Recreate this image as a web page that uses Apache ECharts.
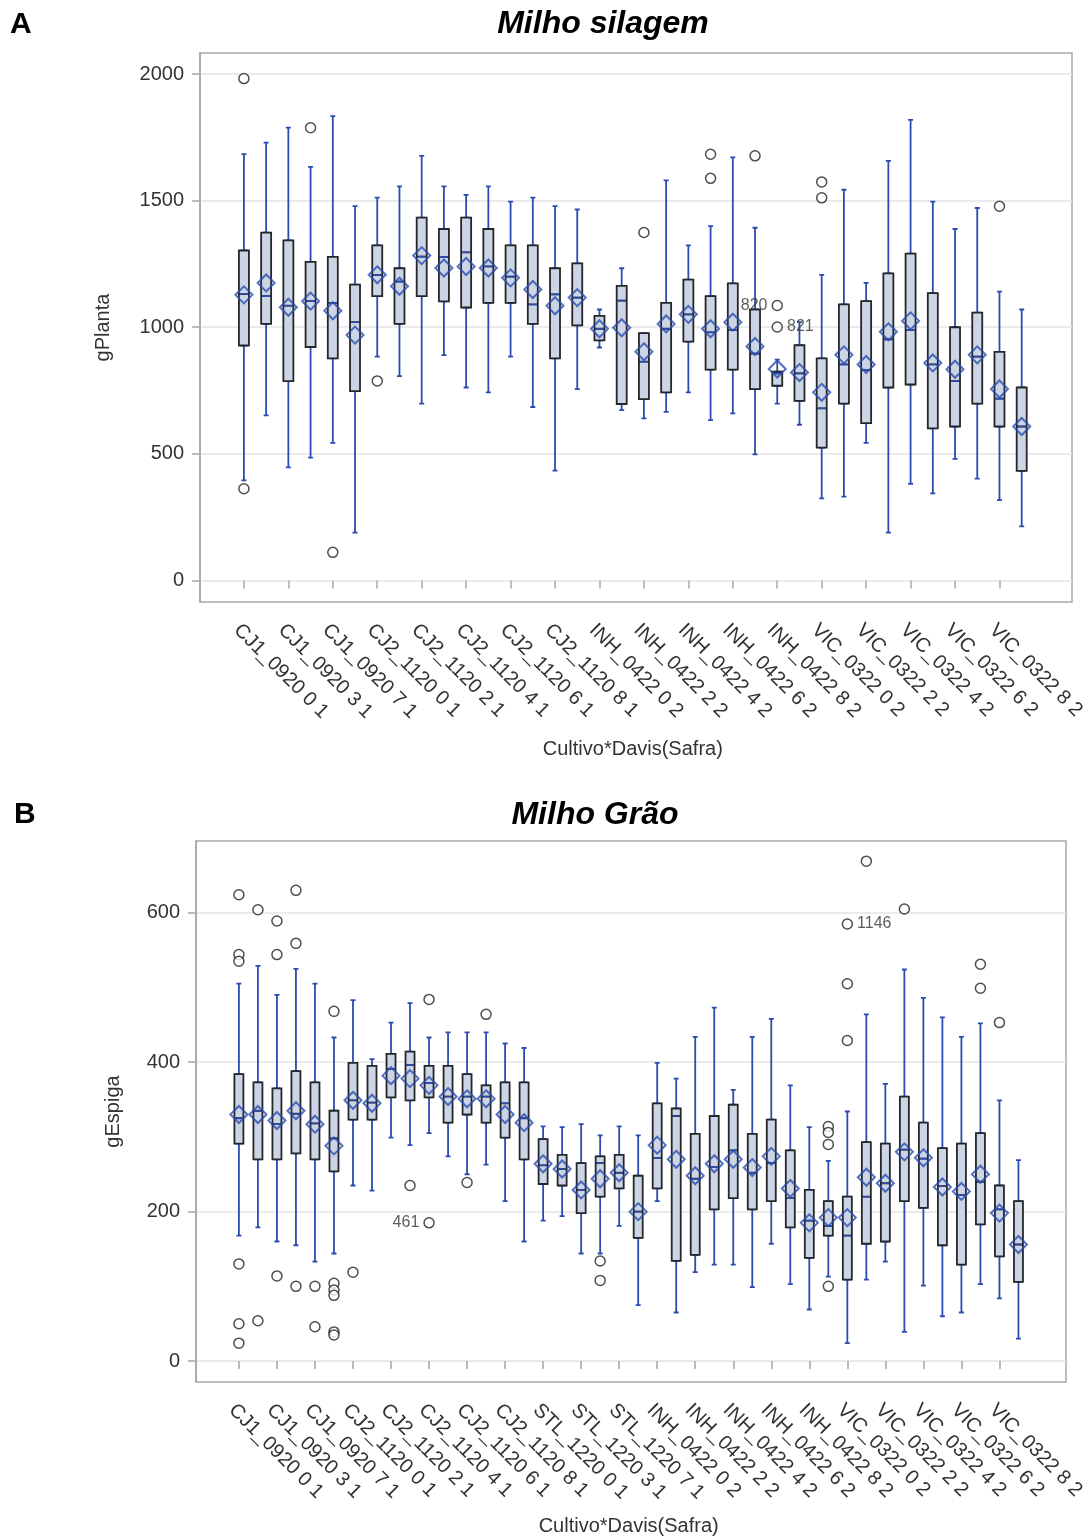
<!DOCTYPE html>
<html>
<head>
<meta charset="utf-8">
<script src="https://cdn.jsdelivr.net/npm/echarts@6/dist/echarts.min.js"></script>
<style>html,body{margin:0;padding:0;background:#fff}#c{width:1088px;height:1538px}</style>
</head>
<body>
<div id="c"></div>
<script>
// ---------- Panel A: Milho silagem (gPlanta) ----------
const catA = [
 'CJ1_0920 0 1','CJ1_0920 1 1','CJ1_0920 3 1','CJ1_0920 5 1','CJ1_0920 7 1','CJ1_0920 9 1',
 'CJ2_1120 0 1','CJ2_1120 1 1','CJ2_1120 2 1','CJ2_1120 3 1','CJ2_1120 4 1','CJ2_1120 5 1','CJ2_1120 6 1','CJ2_1120 7 1','CJ2_1120 8 1','CJ2_1120 9 1',
 'INH_0422 0 2','INH_0422 1 2','INH_0422 2 2','INH_0422 3 2','INH_0422 4 2','INH_0422 5 2','INH_0422 6 2','INH_0422 7 2','INH_0422 8 2','INH_0422 9 2',
 'VIC_0322 0 2','VIC_0322 1 2','VIC_0322 2 2','VIC_0322 3 2','VIC_0322 4 2','VIC_0322 5 2','VIC_0322 6 2','VIC_0322 7 2','VIC_0322 8 2','VIC_0322 9 2'
];
const minA  = [395,652,447,485,543,189,884,807,698,890,762,743,884,685,434,756,920,673,640,666,743,633,660,498,698,615,324,331,543,189,382,344,480,402,317,214];
const q1A   = [928,1013,787,922,877,748,1123,1013,1123,1102,1078,1096,1096,1013,877,1007,948,697,716,743,943,833,833,756,769,709,525,698,621,762,774,601,608,698,608,433];
const medA  = [1131,1123,1085,1103,1096,1020,1207,1180,1279,1278,1296,1240,1200,1090,1130,1117,994,1105,864,994,1051,980,990,896,818,818,680,853,832,952,990,853,787,884,718,608];
const q3A   = [1303,1374,1343,1258,1278,1168,1323,1233,1433,1388,1433,1388,1323,1323,1233,1252,1045,1163,977,1096,1188,1123,1173,1070,825,929,877,1090,1103,1213,1291,1135,1000,1058,903,762];
const maxA  = [1684,1729,1788,1633,1834,1478,1512,1556,1677,1556,1523,1556,1496,1512,1478,1465,1070,1233,977,1580,1323,1399,1671,1393,872,1020,1207,1543,1175,1657,1819,1496,1388,1471,1141,1070];
const meanA = [1128,1175,1079,1103,1065,969,1207,1162,1283,1234,1240,1234,1195,1149,1085,1117,994,998,903,1013,1051,994,1020,924,835,821,743,891,853,982,1025,859,834,891,756,608];
// outliers: [category index, value, label text, label side]
const outA = [[0,1982],[0,362],[3,1788],[4,111],[6,788],[18,1374],[21,1683],[21,1588],[23,1677],
 [24,1086,'820','left'],[24,1001,'821','right'],[26,1574],[26,1511],[34,1478]];
const ticksA = [0,500,1000,1500,2000];

// ---------- Panel B: Milho Grão (gEspiga) ----------
const catB = [
 'CJ1_0920 0 1','CJ1_0920 1 1','CJ1_0920 3 1','CJ1_0920 5 1','CJ1_0920 7 1','CJ1_0920 9 1',
 'CJ2_1120 0 1','CJ2_1120 1 1','CJ2_1120 2 1','CJ2_1120 3 1','CJ2_1120 4 1','CJ2_1120 5 1','CJ2_1120 6 1','CJ2_1120 7 1','CJ2_1120 8 1','CJ2_1120 9 1',
 'STL_1220 0 1','STL_1220 1 1','STL_1220 3 1','STL_1220 5 1','STL_1220 7 1','STL_1220 9 1',
 'INH_0422 0 2','INH_0422 1 2','INH_0422 2 2','INH_0422 3 2','INH_0422 4 2','INH_0422 5 2','INH_0422 6 2','INH_0422 7 2','INH_0422 8 2','INH_0422 9 2',
 'VIC_0322 0 2','VIC_0322 1 2','VIC_0322 2 2','VIC_0322 3 2','VIC_0322 4 2','VIC_0322 5 2','VIC_0322 6 2','VIC_0322 7 2','VIC_0322 8 2','VIC_0322 9 2'
];
const minB  = [168,179,160,155,133,144,235,228,299,289,305,274,250,263,214,160,188,194,144,144,181,75,214,65,119,129,129,99,157,103,69,113,24,109,133,39,101,60,65,103,84,30];
const q1B   = [291,270,270,278,270,254,323,323,353,349,353,319,330,319,299,270,237,235,198,220,231,165,231,134,142,203,218,203,214,179,138,168,109,157,160,214,205,155,129,183,140,106];
const medB  = [325,335,317,331,318,298,349,346,391,396,372,354,354,354,345,325,262,257,229,265,252,200,272,328,244,260,282,252,265,218,188,181,168,220,238,283,271,234,222,240,203,156];
const q3B   = [384,373,365,388,373,335,399,395,411,414,395,395,384,369,373,373,297,276,265,274,276,248,345,338,304,328,343,304,323,282,229,214,220,293,291,354,319,285,291,305,235,214];
const maxB  = [505,529,490,525,505,433,483,404,453,479,433,440,440,440,425,419,314,313,317,302,314,302,399,378,434,473,363,434,458,369,313,268,334,464,371,524,486,460,434,452,349,269];
const meanB = [330,330,322,335,317,288,349,345,382,378,369,354,351,351,330,319,264,257,229,244,252,200,289,270,248,264,270,259,274,231,185,192,192,246,238,280,272,233,227,250,198,156];
const outB = [[0,624],[0,544],[0,535],[0,130],[0,50],[0,24],[1,604],[1,54],[2,589],[2,544],[2,114],
 [3,630],[3,559],[3,100],[4,100],[4,46],[5,468],[5,104],[5,95],[5,88],[5,39],[5,35],[6,119],
 [9,235],[10,484],[10,185,'461','left'],[12,239],[13,464],[19,134],[19,108],
 [31,314],[31,306],[31,290],[31,100],[32,585,'1146','right'],[32,505],[32,429],[33,669],[35,605],
 [39,531],[39,499],[40,453]];
const ticksB = [0,200,400,600];

// ---------- styles ----------
const FONT = 'Liberation Sans, Arial, sans-serif';
const BLUE = '#2a4cb0';
const BOXFILL = '#cbd5e6';
const BOXLINE = '#262626';
const TXT = '#333';

// xBox: visible category axis; xWh / xMed: overlaid hidden category axes (avoid side-by-side layout)
function panelSeries(xBox, xWh, xMed, yi, mins, q1s, meds, q3s, maxs, means, outs, boxW, whW) {
  const n = mins.length;
  const idx = Array.from({length: n}, (_, i) => i);
  return [
    { type: 'boxplot', xAxisIndex: xWh, yAxisIndex: yi, boxWidth: [whW, whW],
      itemStyle: { color: BOXFILL, borderColor: BLUE, borderWidth: 1.8 },
      data: idx.map(i => [mins[i], q1s[i], meds[i], q3s[i], maxs[i]]) },
    { type: 'boxplot', xAxisIndex: xBox, yAxisIndex: yi, boxWidth: [boxW, boxW],
      itemStyle: { color: BOXFILL, borderColor: BOXLINE, borderWidth: 1.8 },
      data: idx.map(i => [q1s[i], q1s[i], meds[i], q3s[i], q3s[i]]) },
    { type: 'boxplot', xAxisIndex: xMed, yAxisIndex: yi, boxWidth: [boxW - 1.8, boxW - 1.8],
      itemStyle: { color: BOXFILL, borderColor: BLUE, borderWidth: 1.6 },
      data: idx.map(i => [meds[i], meds[i], meds[i], meds[i], meds[i]]) },
    { type: 'scatter', xAxisIndex: xBox, yAxisIndex: yi, symbol: 'diamond', symbolSize: [17, 17],
      itemStyle: { color: 'rgba(0,0,0,0)', borderColor: BLUE, borderWidth: 2 }, z: 5,
      data: idx.map(i => [i, means[i]]) },
    { type: 'scatter', xAxisIndex: xBox, yAxisIndex: yi, symbol: 'circle', symbolSize: 10,
      itemStyle: { color: '#fff', borderColor: '#222', borderWidth: 1.5 }, z: 6,
      data: outs.map(o => {
        const d = { value: [o[0], o[1]] };
        if (o[2]) d.label = { show: true, formatter: o[2], position: o[3], distance: 4,
          fontSize: 16, fontFamily: FONT, color: TXT };
        return d;
      }) }
  ];
}

function catAxis(gi, cats, name, gap) {
  return { type: 'category', gridIndex: gi, data: cats, boundaryGap: true,
    axisLine: { show: false },
    axisTick: { show: true, interval: 1, alignWithLabel: true, length: 8, lineStyle: { color: '#a6a6a6', width: 1.5 } },
    axisLabel: { interval: 1, rotate: -45, margin: 18, verticalAlign: 'top', fontSize: 20, fontFamily: FONT, color: TXT },
    splitLine: { show: false },
    name: name, nameLocation: 'middle', nameGap: gap, nameMoveOverlap: false,
    nameTextStyle: { fontSize: 20, fontFamily: FONT, color: TXT } };
}
function hiddenCat(gi, cats) {
  return { type: 'category', gridIndex: gi, data: cats, boundaryGap: true, show: false,
    axisTick: { show: false }, axisLabel: { show: false }, splitLine: { show: false } };
}
function hiddenY(gi, mn, mx) {
  return { type: 'value', gridIndex: gi, min: mn, max: mx, show: false, splitLine: { show: false } };
}
function frameY(gi, mn, mx, ticks, name, gap) {
  return { type: 'value', gridIndex: gi, min: mn, max: mx,
    axisLine: { show: true, lineStyle: { color: '#a6a6a6', width: 1.5 } },
    axisTick: { show: true, customValues: ticks, length: 8, lineStyle: { color: '#a6a6a6', width: 1.5 } },
    axisLabel: { customValues: ticks, margin: 16, fontSize: 20, fontFamily: FONT, color: TXT,
      formatter: v => String(v) },
    splitLine: { show: true, lineStyle: { color: '#e4e4e4', width: 1.5 } },
    name: name, nameLocation: 'middle', nameGap: gap, nameRotate: 90, nameMoveOverlap: false,
    nameTextStyle: { fontSize: 20, fontFamily: FONT, color: TXT } };
}
function frameX(gi) {
  return { type: 'value', gridIndex: gi, min: 0, max: 1, show: false, splitLine: { show: false } };
}

const A_MIN = -85, A_MAX = 2083, B_MIN = -28, B_MAX = 696;

const option = {
  animation: false,
  backgroundColor: '#fff',
  title: [
    { text: 'A', left: 10, top: 10, padding: 0, textStyle: { fontSize: 30, fontWeight: 'bold', fontFamily: FONT, color: '#000' } },
    { text: 'Milho silagem', left: 603, top: 8, padding: 0, textAlign: 'center',
      textStyle: { fontSize: 32, fontWeight: 'bold', fontStyle: 'italic', fontFamily: FONT, color: '#000' } },
    { text: 'B', left: 14, top: 800, padding: 0, textStyle: { fontSize: 30, fontWeight: 'bold', fontFamily: FONT, color: '#000' } },
    { text: 'Milho Grão', left: 595, top: 799, padding: 0, textAlign: 'center',
      textStyle: { fontSize: 32, fontWeight: 'bold', fontStyle: 'italic', fontFamily: FONT, color: '#000' } }
  ],
  grid: [
    { left: 232.8, top: 53, width: 806.4, height: 549 },
    { left: 229.4, top: 841, width: 803.2, height: 541 },
    { left: 200, top: 53, width: 872, height: 549, show: true, borderColor: '#a6a6a6', borderWidth: 1.5, backgroundColor: 'rgba(0,0,0,0)' },
    { left: 196, top: 841, width: 870, height: 541, show: true, borderColor: '#a6a6a6', borderWidth: 1.5, backgroundColor: 'rgba(0,0,0,0)' }
  ],
  xAxis: [
    catAxis(0, catA, 'Cultivo*Davis(Safra)', 137),
    catAxis(1, catB, 'Cultivo*Davis(Safra)', 134),
    frameX(2), frameX(3),
    hiddenCat(0, catA), hiddenCat(0, catA),
    hiddenCat(1, catB), hiddenCat(1, catB)
  ],
  yAxis: [ hiddenY(0, A_MIN, A_MAX), hiddenY(1, B_MIN, B_MAX),
           frameY(2, A_MIN, A_MAX, ticksA, 'gPlanta', 87), frameY(3, B_MIN, B_MAX, ticksB, 'gEspiga', 73) ],
  series: [
    ...panelSeries(0, 4, 5, 0, minA, q1A, medA, q3A, maxA, meanA, outA, 10, 5),
    ...panelSeries(1, 6, 7, 1, minB, q1B, medB, q3B, maxB, meanB, outB, 9, 5)
  ]
};
const chart = echarts.init(document.getElementById('c'), null, { renderer: 'canvas' });
chart.setOption(option);
</script>
</body>
</html>
